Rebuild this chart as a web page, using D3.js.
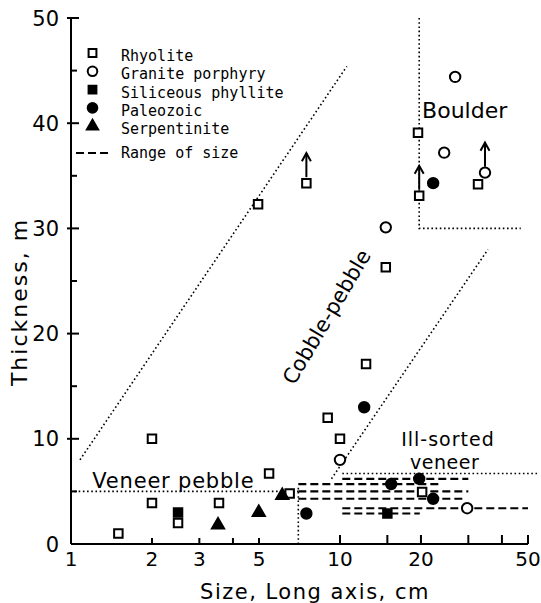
<!DOCTYPE html>
<html>
<head>
<meta charset="utf-8">
<script src="https://cdn.jsdelivr.net/npm/d3@7"></script>
<style>
  body { margin: 0; background: #fff; }
  text { font-family: "DejaVu Sans", sans-serif; fill: #000; }
  .legend text { font-family: "DejaVu Sans Mono", monospace; font-size: 15px; }
</style>
</head>
<body>
<script>
// ---- data ----
var rhyolite = [[1.5,1.0],[2.0,10.0],[2.0,3.9],[2.5,2.0],[3.55,3.9],[5.45,6.7],[6.5,4.8],
                [4.96,32.3],[7.5,34.3],[14.8,26.3],[12.5,17.1],[9.0,12.0],[10.0,10.0],
                [19.5,39.1],[32.6,34.2],[19.7,33.1],[20.2,4.95]];
var granite = [[14.8,30.1],[26.8,44.4],[24.4,37.2],[34.6,35.3],[10.0,8.0],[29.7,3.4]];
var phyllite = [[2.5,3.0],[15.0,2.9]];
var paleozoic = [[12.3,13.0],[22.2,34.3],[19.7,6.2],[15.5,5.7],[22.2,4.3],[7.5,2.9]];
var serpentinite = [[3.52,1.8],[4.99,3.0],[6.1,4.6]];

// points that carry an upward arrow (thickness is a minimum)
var arrowsUp = [[7.5,34.3],[19.7,33.1],[34.6,35.3]];

// range of size: [min size, max size, thickness]
var sizeRanges = [[10.2,30,6.2],[7,24,5.7],[7,30,5.0],[7,29,4.3],[10.2,50,3.4],[10.2,19.8,2.9]];

// dotted field boundaries
var boundaries = [
  [[1.08,8],[10.6,45.4]],
  [[9.3,6.2],[35.5,28]],
  [[1.03,5],[7,5]],
  [[7,0],[7,5.5]],
  [[10.2,6.7],[54,6.7]],
  [[19.7,50],[19.7,30],[47,30]]
];

var xTicks = [2,3,4,5,10,15,20,30,40,50];
var xLabels = [1,2,3,5,10,20,50];
var yMajor = [0,10,20,30,40,50];
var yMinor = [5,15,25,35,45];

var series = [
  {name:"Rhyolite", data:rhyolite, shape:d3.symbolSquare, size:72, fill:"#fff"},
  {name:"Granite porphyry", data:granite, shape:d3.symbolCircle, size:85, fill:"#fff"},
  {name:"Siliceous phyllite", data:phyllite, shape:d3.symbolSquare, size:72, fill:"#000"},
  {name:"Paleozoic", data:paleozoic, shape:d3.symbolCircle, size:85, fill:"#000"},
  {name:"Serpentinite", data:serpentinite, shape:d3.symbolTriangle, size:64, fill:"#000"}
];

var W = 541, H = 603;
var svg = d3.select("body").append("svg")
    .attr("width", W)
    .attr("height", H);

var x = d3.scaleLog().domain([1,50]).range([71,528]);
var y = d3.scaleLinear().domain([0,50]).range([544,18]);

// ---- axes (drawn by hand to get inward ticks) ----
var ax = svg.append("g").attr("stroke","#000").attr("stroke-width",2);
ax.append("line").attr("x1",x(1)).attr("x2",x(50)).attr("y1",y(0)).attr("y2",y(0));
ax.append("line").attr("x1",x(1)).attr("x2",x(1)).attr("y1",y(0)).attr("y2",y(50));

ax.selectAll(".xt").data(xTicks).enter().append("line")
    .attr("x1",function(d){return x(d);}).attr("x2",function(d){return x(d);})
    .attr("y1",y(0)).attr("y2",function(d){return y(0) - (d>=10 ? 9 : 6);});

ax.selectAll(".ymaj").data(yMajor.slice(1)).enter().append("line")
    .attr("x1",x(1)-4).attr("x2",x(1)+8)
    .attr("y1",function(d){return y(d);}).attr("y2",function(d){return y(d);});
ax.selectAll(".ymin").data(yMinor).enter().append("line")
    .attr("x1",x(1)).attr("x2",x(1)+6)
    .attr("y1",function(d){return y(d);}).attr("y2",function(d){return y(d);});

svg.selectAll(".xl").data(xLabels).enter().append("text")
    .attr("x",function(d){return x(d);})
    .attr("y",566)
    .attr("text-anchor","middle")
    .style("font-size","20px")
    .text(function(d){return d;});

svg.selectAll(".yl").data(yMajor).enter().append("text")
    .attr("x",x(1)-12)
    .attr("y",function(d){return y(d);})
    .attr("dy","0.36em")
    .attr("text-anchor","end")
    .style("font-size","21px")
    .text(function(d){return d;});

svg.append("text")
    .attr("x",315).attr("y",599)
    .attr("text-anchor","middle")
    .style("font-size","21px")
    .style("letter-spacing","1.5px")
    .text("Size, Long axis, cm");

svg.append("text")
    .attr("transform","translate(27,302) rotate(-90)")
    .attr("text-anchor","middle")
    .style("font-size","22px")
    .style("letter-spacing","2px")
    .text("Thickness, m");

// ---- dotted boundaries ----
var line = d3.line().x(function(d){return x(d[0]);}).y(function(d){return y(d[1]);});
svg.append("g").selectAll("path").data(boundaries).enter().append("path")
    .attr("d",line)
    .attr("fill","none")
    .attr("stroke","#000")
    .attr("stroke-width",1.6)
    .attr("stroke-dasharray","1.6,2.6");

// ---- range of size ----
svg.append("g").selectAll("line").data(sizeRanges).enter().append("line")
    .attr("x1",function(d){return x(d[0]);})
    .attr("x2",function(d){return x(d[1]);})
    .attr("y1",function(d){return y(d[2]);})
    .attr("y2",function(d){return y(d[2]);})
    .attr("stroke","#000")
    .attr("stroke-width",2.2)
    .attr("stroke-dasharray","8,4");

// ---- arrows ----
var arr = svg.append("g").attr("stroke","#000").attr("stroke-width",2).attr("fill","none");
arrowsUp.forEach(function(d){
  var px = x(d[0]), py = y(d[1]);
  arr.append("line").attr("x1",px).attr("x2",px).attr("y1",py-6).attr("y2",py-30);
  arr.append("path").attr("d","M"+(px-4.5)+","+(py-22)+"L"+px+","+(py-30)+"L"+(px+4.5)+","+(py-22));
});

// ---- points ----
series.forEach(function(s){
  svg.append("g").selectAll("path").data(s.data).enter().append("path")
      .attr("transform",function(d){return "translate("+x(d[0])+","+y(d[1])+")";})
      .attr("d",d3.symbol().type(s.shape).size(s.size))
      .attr("fill",s.fill)
      .attr("stroke","#000")
      .attr("stroke-width",2);
});

// ---- field labels ----
svg.append("text").attr("x",x(1.2)).attr("y",y(5.33))
    .style("font-size","21px").style("letter-spacing","0.8px").text("Veneer pebble");
svg.append("text").attr("x",x(20.2)).attr("y",y(40.5))
    .style("font-size","22px").text("Boulder");
svg.append("text").attr("x",x(25.2)).attr("y",y(9.3)).attr("text-anchor","middle")
    .style("font-size","19px").style("letter-spacing","1px").text("Ill-sorted");
svg.append("text").attr("x",x(24.5)).attr("y",y(7.1)).attr("text-anchor","middle")
    .style("font-size","19px").style("letter-spacing","0.5px").text("veneer");
svg.append("text")
    .attr("transform","translate("+x(8.9)+","+y(21.6)+") rotate(-59.4)")
    .attr("text-anchor","middle").attr("dy","0.36em")
    .style("font-size","21px").text("Cobble-pebble");

// ---- legend ----
var legend = svg.append("g").attr("class","legend");
var rows = legend.selectAll(".row").data(series).enter().append("g")
    .attr("transform",function(d,i){return "translate(0,"+(61 + i*18.3)+")";});
rows.append("path")
    .attr("transform","translate(92.5,-8)")
    .attr("d",function(d){return d3.symbol().type(d.shape).size(d.size*0.85)();})
    .attr("fill",function(d){return d.fill;})
    .attr("stroke","#000").attr("stroke-width",2);
rows.append("text").attr("x",121).attr("y",0).text(function(d){return d.name;});

legend.append("line").attr("x1",76).attr("x2",110).attr("y1",153).attr("y2",153)
    .attr("stroke","#000").attr("stroke-width",2).attr("stroke-dasharray","8,4");
legend.append("text").attr("x",121).attr("y",158).text("Range of size");
</script>
</body>
</html>
